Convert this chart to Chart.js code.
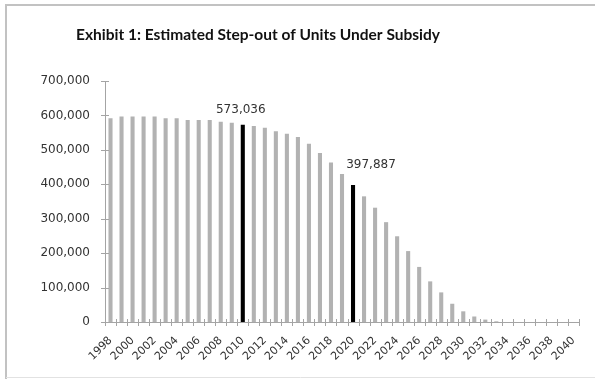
<!DOCTYPE html>
<html>
<head>
<meta charset="utf-8">
<script src="https://cdn.jsdelivr.net/npm/chart.js@4"></script>
<style>
  html, body { margin: 0; padding: 0; background: #fff; }
  #wrap { position: relative; width: 595px; height: 379px; }
</style>
</head>
<body>
<div id="wrap"><canvas id="c" width="595" height="379"></canvas></div>
<script>
// Years on the category axis
const years = [];
for (let y = 1998; y <= 2040; y++) years.push(String(y));

// Units estimated to step out of subsidy, by year
const units = [
  592000, 597000, 597000, 597000, 597000, 592000, 592000, 587000, 587000, 587000,
  582000, 579000, 573036, 569000, 564000, 554000, 547000, 537000, 518000, 491000,
  463000, 430000, 397887, 365000, 332000, 290000, 249000, 206000, 160000, 118000,
  86000, 53000, 31000, 16000, 7000, 2000, 0, 0, 0, 0,
  0, 0, 0
];

// Years that are highlighted and labelled with their value
const highlightYears = ['2010', '2020'];

// Value axis ticks
const yTicks = [0, 100000, 200000, 300000, 400000, 500000, 600000, 700000];

const GRAY = '#b2b2b2';
const AXIS = '#a4a4a4';
const TEXT = '#333333';
const FONT = '"DejaVu Sans", sans-serif';

const barColors = years.map(y => highlightYears.includes(y) ? '#000000' : GRAY);
const fmt = v => v.toLocaleString('en-US');

// Outer frame and title
const framePlugin = {
  id: 'frame',
  beforeDraw(chart) {
    const ctx = chart.ctx;
    ctx.save();
    ctx.fillStyle = '#ffffff';
    ctx.fillRect(0, 0, chart.width, chart.height);
    ctx.strokeStyle = '#c2c2c2';
    ctx.lineWidth = 2;
    ctx.beginPath();
    ctx.moveTo(6, chart.height);
    ctx.lineTo(6, 5);
    ctx.lineTo(chart.width, 5);
    ctx.stroke();
    ctx.strokeStyle = '#e2e2e2';
    ctx.lineWidth = 1;
    ctx.beginPath();
    ctx.moveTo(6, 377.5);
    ctx.lineTo(chart.width, 377.5);
    ctx.stroke();
    ctx.fillStyle = '#111111';
    ctx.font = 'bold 15.5px Lato, sans-serif';
    ctx.textAlign = 'center';
    ctx.textBaseline = 'middle';
    ctx.fillText('Exhibit 1: Estimated Step-out of Units Under Subsidy', 258, 35);
    ctx.restore();
  }
};

// Tick marks that cross both axis lines
const crossTicks = {
  id: 'crossTicks',
  afterDraw(chart) {
    const ctx = chart.ctx;
    const x = chart.scales.x, y = chart.scales.y;
    ctx.save();
    ctx.strokeStyle = AXIS;
    ctx.lineWidth = 1;
    ctx.beginPath();
    const n = x.ticks.length;
    const step = (x.right - x.left) / n;
    for (let i = 0; i <= n; i++) {
      const px = Math.round(x.left + i * step) + 0.5;
      ctx.moveTo(px, y.bottom - 3);
      ctx.lineTo(px, y.bottom + 4);
    }
    y.ticks.forEach(t => {
      const py = Math.round(y.getPixelForValue(t.value)) + 0.5;
      ctx.moveTo(x.left - 4, py);
      ctx.lineTo(x.left + 4, py);
    });
    ctx.stroke();
    ctx.restore();
  }
};

// Value labels above the highlighted bars
const labelOffsets = { '2010': { dx: -2, dy: 12 }, '2020': { dx: 18, dy: 17 } };
const valueLabels = {
  id: 'valueLabels',
  afterDatasetsDraw(chart) {
    const ctx = chart.ctx;
    const meta = chart.getDatasetMeta(0);
    ctx.save();
    ctx.fillStyle = TEXT;
    ctx.font = '12px ' + FONT;
    ctx.textAlign = 'center';
    ctx.textBaseline = 'alphabetic';
    highlightYears.forEach(yr => {
      const i = years.indexOf(yr);
      const bar = meta.data[i];
      const off = labelOffsets[yr];
      ctx.fillText(fmt(units[i]), bar.x + off.dx, bar.y - off.dy);
    });
    ctx.restore();
  }
};

new Chart(document.getElementById('c'), {
  type: 'bar',
  data: {
    labels: years,
    datasets: [{
      data: units,
      backgroundColor: barColors,
      borderWidth: 0,
      barPercentage: 0.37,
      categoryPercentage: 1.0
    }]
  },
  options: {
    responsive: false,
    animation: false,
    devicePixelRatio: 1,
    layout: { padding: { left: 0, right: 14, top: 81, bottom: 0 } },
    plugins: {
      legend: { display: false },
      title: { display: false },
      tooltip: { enabled: false }
    },
    scales: {
      x: {
        offset: true,
        grid: { display: false, drawTicks: false, offset: true },
        border: { display: true, color: AXIS, width: 1 },
        ticks: {
          autoSkip: false,
          maxRotation: 45,
          minRotation: 45,
          padding: 12,
          color: TEXT,
          font: { family: FONT, size: 11 },
          callback: (v, i) => (i % 2 === 0 ? years[i] : '')
        },
        afterFit(scale) { scale.height = 57; }
      },
      y: {
        min: 0,
        max: 700000,
        afterBuildTicks(scale) { scale.ticks = yTicks.map(v => ({ value: v })); },
        grid: { display: false, drawTicks: false },
        border: { display: true, color: AXIS, width: 1 },
        ticks: {
          padding: 15,
          color: TEXT,
          font: { family: FONT, size: 12 },
          callback: v => fmt(v)
        },
        afterFit(scale) { scale.width = 105; }
      }
    }
  },
  plugins: [framePlugin, crossTicks, valueLabels]
});
</script>
</body>
</html>
